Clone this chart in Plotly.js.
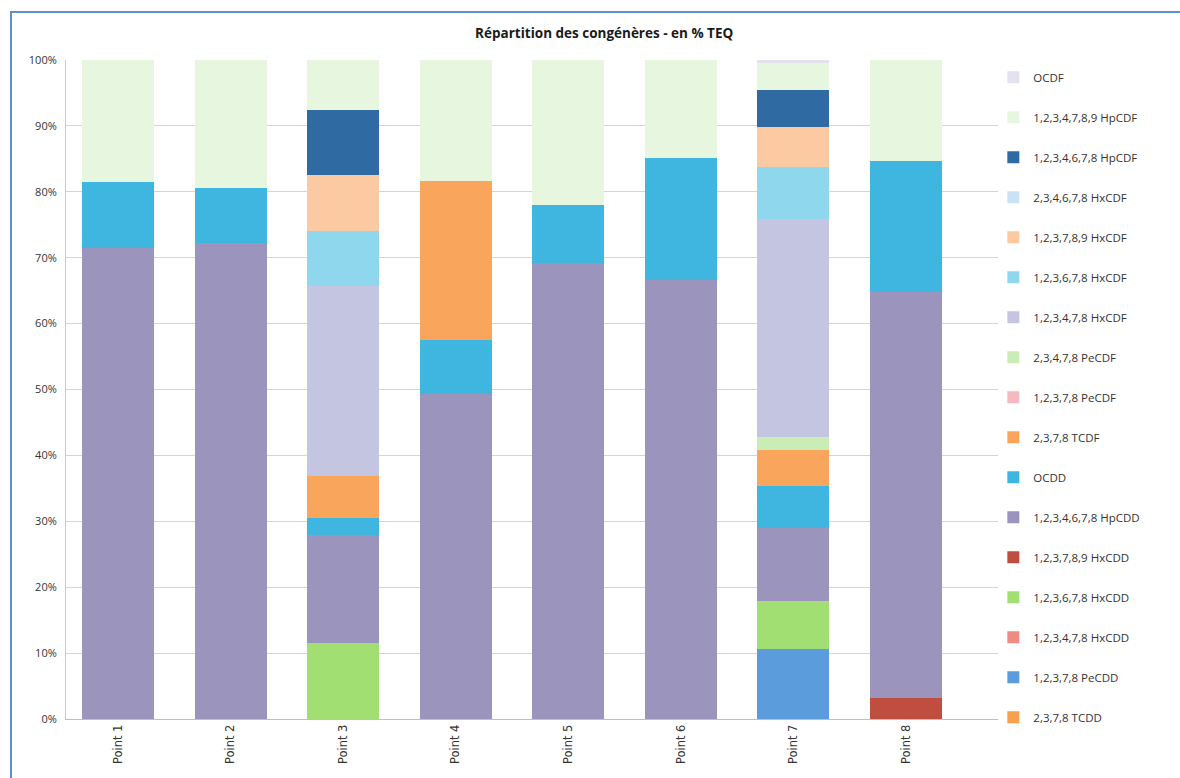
<!DOCTYPE html>
<html>
<head>
<meta charset="utf-8">
<script src="https://cdn.plot.ly/plotly-3.0.1.min.js"></script>
<style>
  html, body { margin: 0; padding: 0; background: #ffffff; overflow: hidden; }
  #chart { position: absolute; left: 0; top: 0; width: 1180px; height: 778px; }
  #frame { position: absolute; left: 10px; top: 11px; width: 1300px; height: 900px;
           border-left: 2px solid #5b8fd0; border-top: 2px solid #5b8fd0; pointer-events: none; }
</style>
</head>
<body>
<div id="chart"></div>
<div id="frame"></div>
<script>
// Categories
const categories = ['Point 1', 'Point 2', 'Point 3', 'Point 4', 'Point 5', 'Point 6', 'Point 7', 'Point 8'];

// Series values (% TEQ), bottom to top of the stack
const tcdd_2378      = [0, 0, 0, 0, 0, 0, 0, 0];
const pecdd_12378    = [0, 0, 0, 0, 0, 0, 10.6, 0];
const hxcdd_123478   = [0, 0, 0, 0, 0, 0, 0, 0];
const hxcdd_123678   = [0, 0, 11.5, 0, 0, 0, 7.3, 0];
const hxcdd_123789   = [0, 0, 0, 0, 0, 0, 0, 3.2];
const hpcdd_1234678  = [71.5, 72.2, 16.4, 49.3, 69.2, 66.6, 11.1, 61.6];
const ocdd           = [10.0, 8.4, 2.6, 8.2, 8.8, 18.5, 6.4, 19.9];
const tcdf_2378      = [0, 0, 6.4, 24.1, 0, 0, 5.4, 0];
const pecdf_12378    = [0, 0, 0, 0, 0, 0, 0, 0];
const pecdf_23478    = [0, 0, 0, 0, 0, 0, 2.0, 0];
const hxcdf_123478   = [0, 0, 28.8, 0, 0, 0, 33.0, 0];
const hxcdf_123678   = [0, 0, 8.4, 0, 0, 0, 8.0, 0];
const hxcdf_123789   = [0, 0, 8.4, 0, 0, 0, 6.1, 0];
const hxcdf_234678   = [0, 0, 0, 0, 0, 0, 0, 0];
const hpcdf_1234678  = [0, 0, 9.9, 0, 0, 0, 5.6, 0];
const hpcdf_1234789  = [18.5, 19.4, 7.6, 18.4, 22.0, 14.9, 4.1, 15.3];
const ocdf           = [0, 0, 0, 0, 0, 0, 0.4, 0];

// Series names (legend labels)
const seriesNames = [
  '2,3,7,8 TCDD', '1,2,3,7,8 PeCDD', '1,2,3,4,7,8 HxCDD', '1,2,3,6,7,8 HxCDD',
  '1,2,3,7,8,9 HxCDD', '1,2,3,4,6,7,8 HpCDD', 'OCDD', '2,3,7,8 TCDF',
  '1,2,3,7,8 PeCDF', '2,3,4,7,8 PeCDF', '1,2,3,4,7,8 HxCDF', '1,2,3,6,7,8 HxCDF',
  '1,2,3,7,8,9 HxCDF', '2,3,4,6,7,8 HxCDF', '1,2,3,4,6,7,8 HpCDF', '1,2,3,4,7,8,9 HpCDF', 'OCDF'
];
const seriesValues = [
  tcdd_2378, pecdd_12378, hxcdd_123478, hxcdd_123678, hxcdd_123789, hpcdd_1234678, ocdd, tcdf_2378,
  pecdf_12378, pecdf_23478, hxcdf_123478, hxcdf_123678, hxcdf_123789, hxcdf_234678, hpcdf_1234678, hpcdf_1234789, ocdf
];
const seriesColors = [
  '#f7a04f', '#5b9ddc', '#ec8c82', '#a2df72', '#bf4e40', '#9b95be', '#3fb6e0', '#f9a65c',
  '#f4b9c1', '#c9edb4', '#c4c5e1', '#8fd7ed', '#fbcaa2', '#c9e3f5', '#2f6aa3', '#e7f6de', '#e3e3ef'
];

const traces = seriesNames.map((name, i) => ({
  type: 'bar',
  name: name,
  x: categories,
  y: seriesValues[i],
  legendgroup: 'g' + i,
  legendrank: 1000 - i,
  marker: { color: seriesColors[i], line: { width: 0 } },
  hoverinfo: 'skip'
}));

const layout = {
  width: 1180,
  height: 778,
  paper_bgcolor: '#ffffff',
  plot_bgcolor: '#ffffff',
  barmode: 'stack',
  bargap: 0.36,
  hovermode: false,
  margin: { l: 66, r: 182, t: 60, b: 59 },
  title: {
    text: '<b>Répartition des congénères - en % TEQ</b>',
    x: 0.512, xref: 'container', xanchor: 'center',
    y: 0.957, yref: 'container', yanchor: 'middle',
    font: { family: '"Open Sans", sans-serif', size: 13.5, color: '#1a1a1a' }
  },
  xaxis: {
    type: 'category',
    range: [-0.462, 7.817],
    tickangle: -90,
    ticks: '',
    showgrid: false,
    showline: true,
    linecolor: '#bfbfbf',
    linewidth: 1,
    tickfont: { family: '"DejaVu Sans", sans-serif', size: 11.5, color: '#333333' },
    fixedrange: true
  },
  yaxis: {
    range: [0, 100],
    dtick: 10,
    ticksuffix: '%',
    showgrid: true,
    gridcolor: '#d4d4d4',
    gridwidth: 1,
    showline: true,
    linecolor: '#c8c8c8',
    zeroline: false,
    ticks: '',
    ticklabelstandoff: 6,
    tickfont: { family: '"Open Sans", sans-serif', size: 11, color: '#333333' },
    fixedrange: true
  },
  legend: {
    x: 0.995, xanchor: 'left',
    y: 0.996, yanchor: 'top',
    traceorder: 'grouped',
    tracegroupgap: 21,
    maxheight: 770,
    font: { family: '"Open Sans", sans-serif', size: 11.5, color: '#333333' },
    bgcolor: 'rgba(0,0,0,0)',
    itemclick: false,
    itemdoubleclick: false
  },
  showlegend: true
};

Plotly.newPlot('chart', traces, layout, { displayModeBar: false, staticPlot: true });
</script>
</body>
</html>
